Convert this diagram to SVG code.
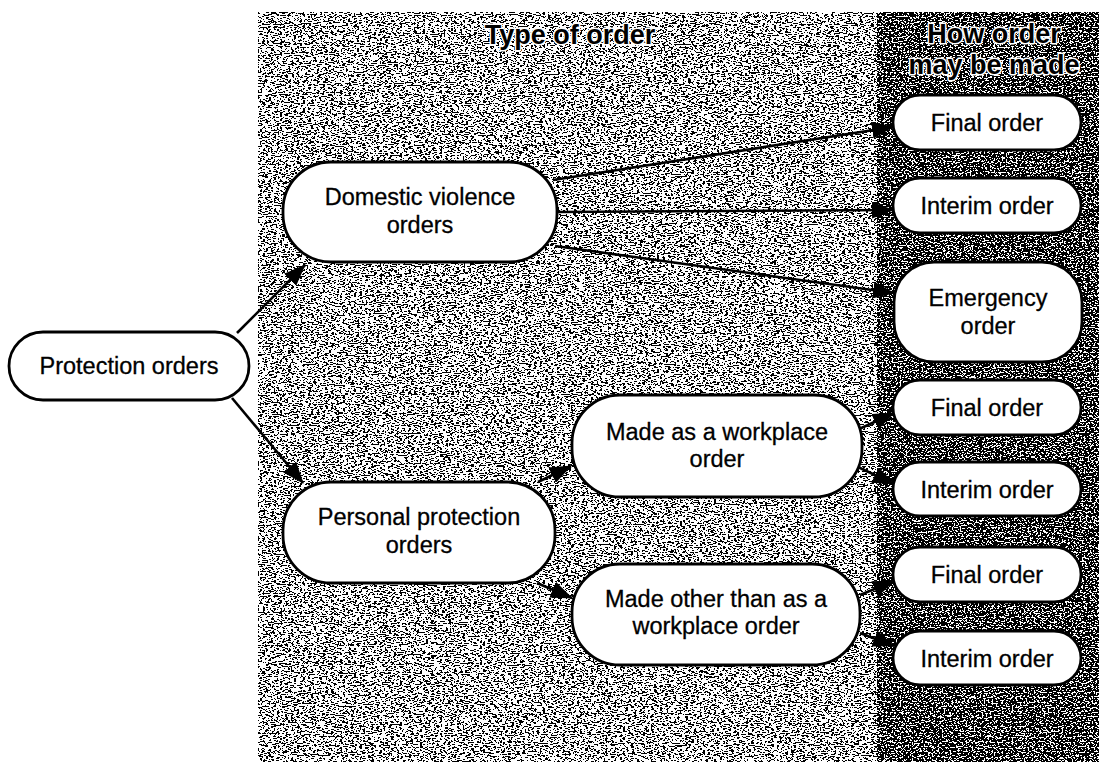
<svg xmlns="http://www.w3.org/2000/svg" width="1107" height="762" viewBox="0 0 1107 762">
<style>
.node rect{fill:#fff;stroke:#000;stroke-width:2.8}
.node text{font-family:"Liberation Sans",Arial,sans-serif;font-size:23.5px;fill:#000;stroke:#000;stroke-width:0.3;text-anchor:middle}
.hdr{font-family:"Liberation Sans",Arial,sans-serif;font-weight:bold;font-size:27px;fill:#000;text-anchor:middle;stroke:#fff;stroke-width:3;stroke-linejoin:round;paint-order:stroke}
.conn line{stroke:#000;stroke-width:2.6}
</style>
<defs>
<marker id="ah" viewBox="0 0 22 17" refX="21" refY="8.5" markerUnits="userSpaceOnUse" markerWidth="22" markerHeight="17" orient="auto">
<path d="M0,0 L22,8.5 L0,17 z" fill="#000"/>
</marker>
<filter id="nz1" x="0" y="0" width="100%" height="100%" color-interpolation-filters="sRGB">
<feTurbulence type="fractalNoise" baseFrequency="0.35 0.9" numOctaves="2" seed="4"/>
<feColorMatrix type="matrix" values="0 0 0 0 0  0 0 0 0 0  0 0 0 0 0  1 0 0 0 0"/>
<feComponentTransfer><feFuncA type="discrete" tableValues="0 0 0 0 0 0 0 0 0 0 0 1 1 1 1 1 1 1 1 1"/></feComponentTransfer>
</filter>
<filter id="nz2" x="0" y="0" width="100%" height="100%" color-interpolation-filters="sRGB">
<feTurbulence type="fractalNoise" baseFrequency="0.5 0.8" numOctaves="2" seed="9"/>
<feColorMatrix type="matrix" values="0 0 0 0 0  0 0 0 0 0  0 0 0 0 0  1 0 0 0 0"/>
<feComponentTransfer><feFuncA type="discrete" tableValues="0 0 0 0 0 0 0 0 0 1 1 1 1 1 1 1 1 1 1 1"/></feComponentTransfer>
</filter>
</defs>
<rect x="0" y="0" width="1107" height="762" fill="#fff"/>
<g id="panels">
<rect x="258" y="12" width="620" height="750" fill="#fff"/>
<rect x="258" y="12" width="620" height="750" fill="#000" filter="url(#nz1)"/>
<rect x="877" y="12" width="222" height="750" fill="#fff"/>
<rect x="877" y="12" width="222" height="750" fill="#000" filter="url(#nz2)"/>
</g>
<g id="headers">
<text class="hdr" x="570" y="44">Type of order</text>
<text class="hdr" x="994" y="43">How order</text>
<text class="hdr" x="994" y="74">may be made</text>
</g>
<g id="connectors" class="conn">
<line x1="237" y1="333" x2="305" y2="265" marker-end="url(#ah)"/>
<line x1="232" y1="398" x2="303" y2="483" marker-end="url(#ah)"/>
<line x1="553" y1="180" x2="893" y2="127" marker-end="url(#ah)"/>
<line x1="557" y1="212" x2="893" y2="210" marker-end="url(#ah)"/>
<line x1="555" y1="246" x2="894" y2="293" marker-end="url(#ah)"/>
<line x1="538" y1="482" x2="571" y2="466" marker-end="url(#ah)"/>
<line x1="537" y1="583" x2="572" y2="598" marker-end="url(#ah)"/>
<line x1="857" y1="430" x2="894" y2="413" marker-end="url(#ah)"/>
<line x1="858" y1="467" x2="894" y2="484" marker-end="url(#ah)"/>
<line x1="860" y1="595" x2="894" y2="581" marker-end="url(#ah)"/>
<line x1="860" y1="633" x2="894" y2="646" marker-end="url(#ah)"/>
</g>
<g id="n-protection" class="node">
<rect x="9" y="332" width="240" height="68" rx="34"/>
<text x="129" y="374">Protection orders</text>
</g>
<g id="n-domestic" class="node">
<rect x="283" y="162" width="274" height="100" rx="48"/>
<text x="420" y="205">Domestic violence</text>
<text x="420" y="233">orders</text>
</g>
<g id="n-personal" class="node">
<rect x="283" y="482" width="272" height="101" rx="48"/>
<text x="419" y="525">Personal protection</text>
<text x="419" y="553">orders</text>
</g>
<g id="n-workplace" class="node">
<rect x="572" y="395" width="290" height="102" rx="48"/>
<text x="717" y="440">Made as a workplace</text>
<text x="717" y="467">order</text>
</g>
<g id="n-other" class="node">
<rect x="572" y="564" width="288" height="101" rx="48"/>
<text x="716" y="607">Made other than as a</text>
<text x="716" y="634">workplace order</text>
</g>
<g id="n-final1" class="node">
<rect x="893" y="95" width="188" height="55" rx="27"/>
<text x="987" y="131">Final order</text>
</g>
<g id="n-interim1" class="node">
<rect x="893" y="178" width="188" height="55" rx="27"/>
<text x="987" y="214">Interim order</text>
</g>
<g id="n-emergency" class="node">
<rect x="894" y="262" width="188" height="100" rx="40"/>
<text x="988" y="306">Emergency</text>
<text x="988" y="334">order</text>
</g>
<g id="n-final2" class="node">
<rect x="893" y="380" width="188" height="55" rx="27"/>
<text x="987" y="416">Final order</text>
</g>
<g id="n-interim2" class="node">
<rect x="893" y="462" width="188" height="54" rx="27"/>
<text x="987" y="498">Interim order</text>
</g>
<g id="n-final3" class="node">
<rect x="893" y="547" width="188" height="55" rx="27"/>
<text x="987" y="583">Final order</text>
</g>
<g id="n-interim3" class="node">
<rect x="893" y="631" width="188" height="54" rx="27"/>
<text x="987" y="667">Interim order</text>
</g>
</svg>
